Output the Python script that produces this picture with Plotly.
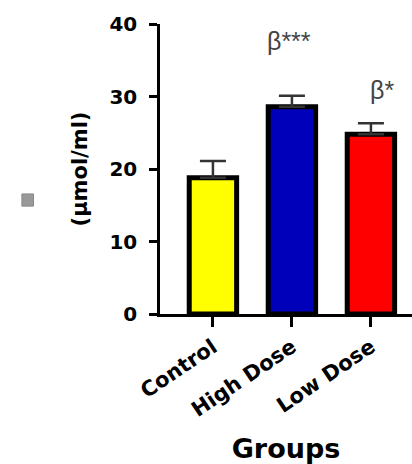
import plotly.graph_objects as go

groups = ["Control", "High Dose", "Low Dose"]
means = [18.8, 28.6, 24.8]
errors = [2.3, 1.5, 1.5]
colors = ["#FFFF00", "#0000BB", "#FF0000"]
sig_labels = ["", "β***", "β*"]
sig_y = [None, 37.6, 30.9]
sig_shift = [0, -3, 11]

fig = go.Figure()
fig.add_trace(go.Bar(
    x=groups, y=means, width=0.6,
    marker=dict(color=colors, line=dict(color="black", width=5)),
    error_y=dict(type="data", array=errors, arrayminus=[0]*3, symmetric=False,
                 color="#333333", thickness=2.5, width=13),
    showlegend=False,
))

for g, lab, yy, sh in zip(groups, sig_labels, sig_y, sig_shift):
    if lab:
        fig.add_annotation(x=g, y=yy, text=lab, showarrow=False, xshift=sh,
                           font=dict(family="Liberation Sans", size=25, color="#444444"))

fig.add_shape(type="rect", xref="paper", yref="paper",
              x0=-0.548, x1=-0.502, y0=0.372, y1=0.414,
              fillcolor="#999999", line=dict(color="#888888", width=1))

fig.update_layout(
    width=412, height=464,
    margin=dict(l=160, r=0, t=24, b=150),
    paper_bgcolor="white", plot_bgcolor="white",
    xaxis=dict(range=[-0.67, 2.52], showline=True, linecolor="black", linewidth=2.5,
               ticks="outside", ticklen=10, tickwidth=2.5, tickcolor="black",
               tickangle=-34,
               tickfont=dict(family="DejaVu Sans", size=21, color="black", weight="bold"),
               title=dict(text="<b>Groups</b>", font=dict(family="DejaVu Sans", size=27, color="black"),
                          standoff=22),
               zeroline=False),
    yaxis=dict(range=[0, 40], tickvals=[0, 10, 20, 30, 40], showline=True, linecolor="black",
               linewidth=2.5, ticks="outside", ticklen=8, tickwidth=2.5, tickcolor="black",
               ticklabelstandoff=8,
               tickfont=dict(family="DejaVu Sans", size=20, color="black", weight="bold"),
               title=dict(text="<b>(µmol/ml)</b>", font=dict(family="DejaVu Sans", size=21, color="black"),
                          standoff=17),
               showgrid=False, zeroline=False),
)

fig.write_html("out.html")
